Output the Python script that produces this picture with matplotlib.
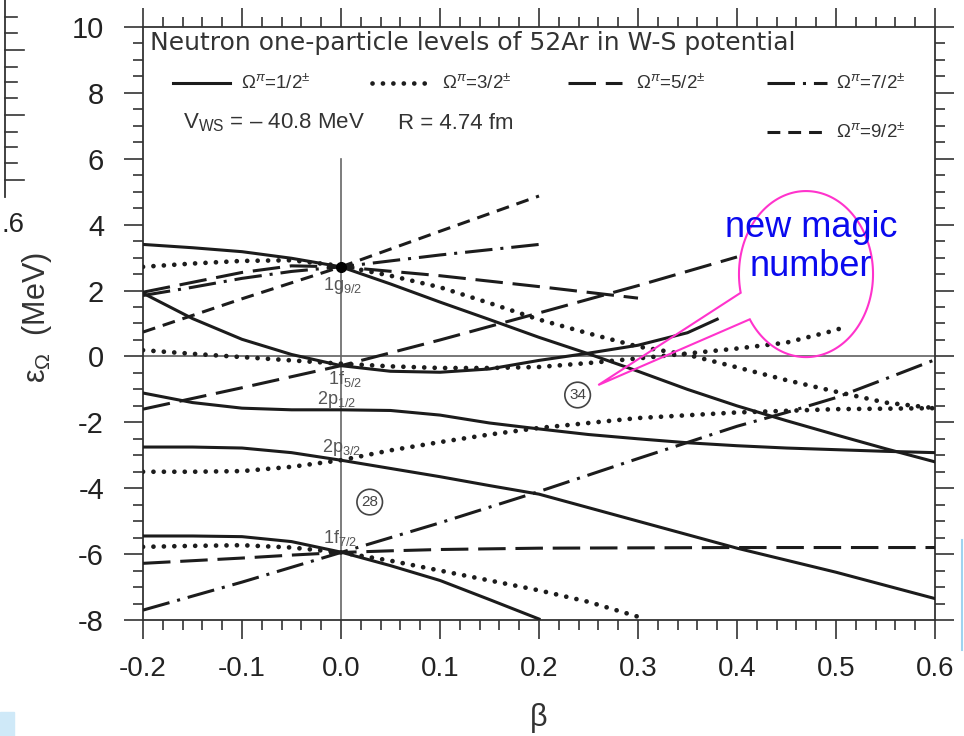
import numpy as np
import matplotlib
matplotlib.use("Agg")
import matplotlib.pyplot as plt
from matplotlib.lines import Line2D
from matplotlib.patches import Polygon, Rectangle
from matplotlib.ticker import MultipleLocator, FormatStrFormatter

plt.rcParams['font.family'] = ['Liberation Sans', 'DejaVu Sans']
plt.rcParams['mathtext.fontset'] = 'custom'
plt.rcParams['mathtext.rm'] = 'Liberation Sans'
plt.rcParams['mathtext.it'] = 'Liberation Sans:italic'
plt.rcParams['mathtext.bf'] = 'Liberation Sans:bold'
plt.rcParams['axes.unicode_minus'] = False

# ---- Nilsson levels, neutron, 52Ar (beta, energy in MeV) ----
# Omega = 1/2
beta_s1 = [-0.2, -0.15, -0.1, -0.05, 0.0, 0.05, 0.1, 0.15, 0.2, 0.25, 0.3, 0.35, 0.4, 0.45, 0.5, 0.55, 0.6]
eps_s1 = [3.40, 3.30, 3.18, 2.98, 2.72, 2.20, 1.65, 1.12, 0.58, 0.08, -0.45, -1.00, -1.50, -1.95, -2.38, -2.80, -3.20]
beta_s2 = [-0.2, -0.15, -0.1, -0.05, 0.0, 0.05, 0.1, 0.15, 0.2, 0.25, 0.3, 0.35, 0.38]
eps_s2 = [1.92, 1.15, 0.52, 0.06, -0.28, -0.45, -0.48, -0.38, -0.12, 0.10, 0.34, 0.72, 1.13]
beta_s3 = [-0.2, -0.15, -0.1, -0.05, 0.0, 0.05, 0.1, 0.15, 0.2, 0.25, 0.3, 0.35, 0.4, 0.45, 0.5, 0.55, 0.6]
eps_s3 = [-1.11, -1.40, -1.57, -1.62, -1.62, -1.64, -1.78, -2.02, -2.20, -2.37, -2.50, -2.62, -2.71, -2.78, -2.83, -2.88, -2.92]
beta_s4 = [-0.2, -0.15, -0.1, -0.05, 0.0, 0.05, 0.1, 0.15, 0.2, 0.3, 0.4, 0.5, 0.6]
eps_s4 = [-2.75, -2.75, -2.78, -2.92, -3.15, -3.40, -3.65, -3.92, -4.18, -5.00, -5.82, -6.55, -7.35]
beta_s5 = [-0.2, -0.15, -0.1, -0.05, 0.0, 0.05, 0.1, 0.15, 0.2]
eps_s5 = [-5.45, -5.45, -5.47, -5.62, -5.94, -6.35, -6.80, -7.38, -7.97]

# Omega = 3/2
beta_d1 = [-0.2, -0.15, -0.1, -0.05, 0.0, 0.05, 0.1, 0.15, 0.2, 0.25, 0.3, 0.35, 0.4, 0.45, 0.5, 0.55, 0.6]
eps_d1 = [2.72, 2.82, 2.90, 2.92, 2.75, 2.45, 2.10, 1.62, 1.12, 0.70, 0.30, 0.05, -0.33, -0.72, -1.07, -1.40, -1.57]
beta_d2 = [-0.2, -0.15, -0.1, -0.05, 0.0, 0.05, 0.1, 0.15, 0.2, 0.25, 0.3, 0.35, 0.4, 0.45, 0.5, 0.51]
eps_d2 = [0.19, 0.08, -0.02, -0.12, -0.22, -0.30, -0.35, -0.35, -0.32, -0.20, -0.06, 0.09, 0.24, 0.42, 0.80, 0.92]
beta_d3 = [-0.2, -0.15, -0.1, -0.05, 0.0, 0.05, 0.1, 0.15, 0.2, 0.3, 0.4, 0.5, 0.6]
eps_d3 = [-3.50, -3.50, -3.48, -3.35, -3.15, -2.85, -2.60, -2.37, -2.17, -1.87, -1.70, -1.60, -1.57]
beta_d4 = [-0.2, -0.15, -0.1, -0.05, 0.0, 0.05, 0.1, 0.15, 0.2, 0.25, 0.3]
eps_d4 = [-5.78, -5.75, -5.73, -5.80, -5.95, -6.20, -6.50, -6.80, -7.10, -7.45, -7.90]

# Omega = 5/2
beta_l1 = [-0.2, -0.15, -0.1, -0.05, 0.0, 0.1, 0.2, 0.3]
eps_l1 = [1.95, 2.25, 2.55, 2.75, 2.72, 2.45, 2.12, 1.77]
beta_l2 = [-0.2, -0.1, 0.0, 0.1, 0.2, 0.3, 0.4]
eps_l2 = [-1.60, -0.95, -0.28, 0.50, 1.32, 2.15, 3.02]
beta_l3 = [-0.2, -0.15, -0.1, -0.05, 0.0, 0.05, 0.1, 0.2, 0.4, 0.6]
eps_l3 = [-6.28, -6.20, -6.12, -6.03, -5.95, -5.90, -5.86, -5.82, -5.80, -5.80]

# Omega = 7/2
beta_c1 = [-0.2, -0.15, -0.1, -0.05, 0.0, 0.1, 0.2]
eps_c1 = [1.85, 2.10, 2.37, 2.58, 2.72, 3.08, 3.40]
beta_c2 = [-0.2, -0.1, 0.0, 0.1, 0.2, 0.3, 0.4, 0.45, 0.5, 0.55, 0.6]
eps_c2 = [-7.70, -6.85, -5.95, -5.05, -4.10, -3.10, -2.12, -1.70, -1.25, -0.68, -0.10]

# Omega = 9/2
beta_t1 = [-0.2, -0.1, 0.0, 0.1, 0.2]
eps_t1 = [0.74, 1.75, 2.72, 3.80, 4.87]

# spherical labels
orbit_labels = ['1g$_{9/2}$', '1f$_{5/2}$', '2p$_{1/2}$', '2p$_{3/2}$', '1f$_{7/2}$']
orbit_beta = [-0.018, -0.013, -0.024, -0.019, -0.018]
orbit_eps = [2.15, -0.68, -1.32, -2.75, -5.50]

gap_labels = ['28', '34']
gap_beta = [0.029, 0.239]
gap_eps = [-4.42, -1.17]

legend_labels = [r'$\Omega^{\pi}$=1/2$^{\pm}$', r'$\Omega^{\pi}$=3/2$^{\pm}$', r'$\Omega^{\pi}$=5/2$^{\pm}$',
                 r'$\Omega^{\pi}$=7/2$^{\pm}$', r'$\Omega^{\pi}$=9/2$^{\pm}$']

LC = '#1c1c1c'
styles = {
    'half': dict(ls='-', lw=2.2),
    'three': dict(ls=(0, (0.01, 2.2)), lw=3.4, dash_capstyle='round'),
    'five': dict(ls=(0, (9, 3.2)), lw=2.2),
    'seven': dict(ls=(0, (9, 2.6, 1, 2.6)), lw=2.2),
    'nine': dict(ls=(0, (4.2, 2.6)), lw=2.2),
}

fig = plt.figure(figsize=(9.64, 7.36), dpi=100)
ax = fig.add_axes([143 / 964, 1 - 620 / 736, 792 / 964, 593 / 736])

# reference axes at beta = 0 and e = 0
ax.axhline(0, color='#777777', lw=1.4, zorder=1)
ax.plot([0, 0], [6.0, -8.0], color='#666666', lw=1.2, zorder=1)

curves = [
    (beta_s1, eps_s1, 'half'), (beta_s2, eps_s2, 'half'), (beta_s3, eps_s3, 'half'),
    (beta_s4, eps_s4, 'half'), (beta_s5, eps_s5, 'half'),
    (beta_d1, eps_d1, 'three'), (beta_d2, eps_d2, 'three'), (beta_d3, eps_d3, 'three'),
    (beta_d4, eps_d4, 'three'),
    (beta_l1, eps_l1, 'five'), (beta_l2, eps_l2, 'five'), (beta_l3, eps_l3, 'five'),
    (beta_c1, eps_c1, 'seven'), (beta_c2, eps_c2, 'seven'),
    (beta_t1, eps_t1, 'nine'),
]
for b, e, key in curves:
    ax.plot(b, e, color=LC, zorder=3, **styles[key])

ax.plot([0], [eps_s1[4]], 'o', color='black', ms=7, zorder=4)

for lab, b, e in zip(orbit_labels, orbit_beta, orbit_eps):
    ax.text(b, e, lab, fontsize=13, color='#555555', ha='left', va='center', zorder=5)

for lab, b, e in zip(gap_labels, gap_beta, gap_eps):
    ax.text(b, e, lab, fontsize=11, color='#444444', ha='center', va='center', zorder=5,
            bbox=dict(boxstyle='circle,pad=0.28', fc='white', ec='#444444', lw=1.2))

# title and legend drawn inside the frame
ax.text(0.009, 0.973, 'Neutron one-particle levels of 52Ar in W-S potential',
        transform=ax.transAxes, fontsize=18, family='DejaVu Sans', color='#333333',
        ha='left', va='center')

leg_keys = ['half', 'three', 'five', 'seven', 'nine']
leg_x0 = [0.038, 0.289, 0.537, 0.788, 0.788]
leg_x1 = [0.110, 0.368, 0.605, 0.864, 0.864]
leg_tx = [0.124, 0.378, 0.622, 0.875, 0.875]
leg_y = [0.906, 0.906, 0.906, 0.906, 0.823]
for key, x0, x1, tx, y, lab in zip(leg_keys, leg_x0, leg_x1, leg_tx, leg_y, legend_labels):
    ax.add_line(Line2D([x0, x1], [y, y], transform=ax.transAxes, color=LC, **styles[key]))
    ax.text(tx, y, lab, transform=ax.transAxes, fontsize=13.5, color='#333333', ha='left', va='center')

ax.text(0.0505, 0.838, r'V$_{\rm WS}$ = – 40.8 MeV', transform=ax.transAxes,
        fontsize=16, color='#333333', ha='left', va='center')
ax.text(0.322, 0.838, 'R = 4.74 fm', transform=ax.transAxes,
        fontsize=16, color='#333333', ha='left', va='center')

# callout bubble
bub_c = (0.4697, 2.50)
bub_a, bub_b = 0.0677, 2.52
bub_tip = (0.2599, -0.868)
t = np.radians(np.linspace(193, -147, 200))
bx = bub_c[0] + bub_a * np.cos(t)
by = bub_c[1] + bub_b * np.sin(t)
pts = np.column_stack([np.append(bx, bub_tip[0]), np.append(by, bub_tip[1])])
ax.add_patch(Polygon(pts, closed=True, fill=False, ec='#ff33cc', lw=1.5, zorder=6))
ax.text(0.4747, 3.33, 'new magic\nnumber', color='#0a0aee', fontsize=26, ha='center',
        va='center', linespacing=1.15, zorder=7)

ax.set_xlim(-0.2, 0.6)
ax.set_ylim(-8, 10)
ax.xaxis.set_major_locator(MultipleLocator(0.1))
ax.xaxis.set_minor_locator(MultipleLocator(0.02))
ax.xaxis.set_major_formatter(FormatStrFormatter('%.1f'))
ax.yaxis.set_major_locator(MultipleLocator(2))
ax.yaxis.set_minor_locator(MultipleLocator(0.5))
ax.tick_params(which='both', direction='out', top=True, right=True, colors='#333333', width=1.2)
ax.tick_params(which='major', length=14, pad=12, labelsize=20, labelcolor='#222222')
ax.tick_params(axis='y', which='major', labelsize=21, pad=14)
ax.tick_params(which='minor', length=7)
for sp in ax.spines.values():
    sp.set_color('#333333')
    sp.set_linewidth(1.3)

ax.set_xlabel('β', fontsize=22, color='#333333')
ax.xaxis.set_label_coords(0.5, -0.14)
ax.set_ylabel('ε$_{\\Omega}$  (MeV)', fontsize=22, color='#333333')
ax.yaxis.set_label_coords(-0.113, 0.51)

# neighbouring panel edge on the left and page tint
def fpx(x, y):
    return x / 964, 1 - y / 736

fx, fy = zip(fpx(5, 0), fpx(5, 197))
fig.add_artist(Line2D(fx, fy, color='#333333', lw=1.3))
for yy in [17, 33, 50, 67, 82, 98, 115, 132, 147, 163, 180]:
    xe = 24 if yy in (50, 115, 180) else 17
    fx, fy = zip(fpx(5, yy), fpx(xe, yy))
    fig.add_artist(Line2D(fx, fy, color='#333333', lw=1.2))
fig.text(*fpx(1, 225), '.6', fontsize=20, color='#222222', ha='left', va='center')
fig.add_artist(Rectangle(fpx(0, 736), 14 / 964, 24 / 736, color='#cfe9f8', transform=fig.transFigure))
fx, fy = zip(fpx(962, 540), fpx(962, 650))
fig.add_artist(Line2D(fx, fy, color='#9fd3f0', lw=1.5))

fig.savefig('out.png', dpi=100)
